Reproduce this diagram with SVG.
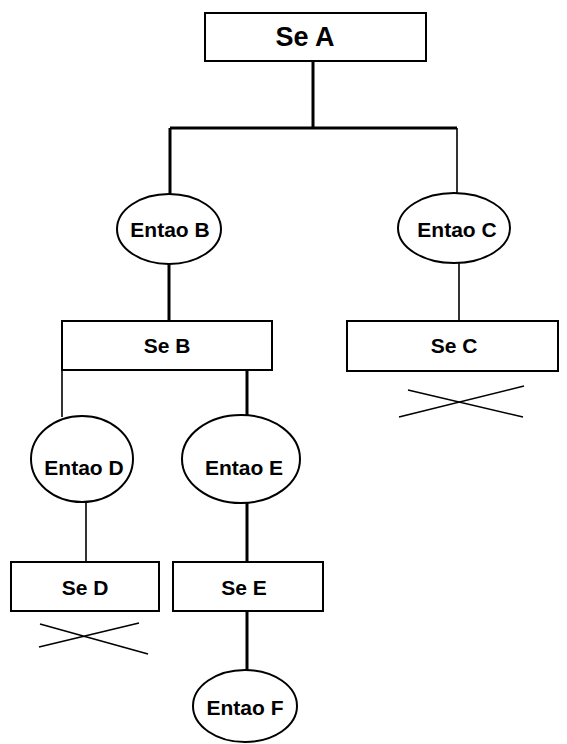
<svg xmlns="http://www.w3.org/2000/svg" width="567" height="744" viewBox="0 0 567 744">
<style>
.box{fill:#fff;stroke:#000;stroke-width:2}
.ell{fill:#fff;stroke:#000;stroke-width:2}
.t{font-family:"Liberation Sans",Arial,sans-serif;font-weight:bold;font-size:21px;text-anchor:middle;fill:#000}
.big{font-size:27px}
.thin{stroke:#000;stroke-width:1.6;fill:none}
.thick{stroke:#000;stroke-width:3;fill:none}
</style>
<rect width="567" height="744" fill="#fff"/>
<g id="connectors">
<path class="thick" d="M313 61V128M170 128H457M170 128V194"/>
<path class="thin" d="M457 128V193"/>
<path class="thick" d="M169 264V321"/>
<path class="thin" d="M459 263V321"/>
<path class="thin" d="M62 370V417"/>
<path class="thick" d="M247 370V417"/>
<path class="thin" d="M86 502V562"/>
<path class="thick" d="M247 503V562M247 611V670"/>
</g>
<g id="SeA"><rect class="box" x="205" y="13" width="221" height="48"/><text class="t big" x="305" y="46">Se A</text></g>
<g id="EntaoB"><ellipse class="ell" cx="169" cy="229" rx="52" ry="35"/><text class="t" x="170" y="237">Entao B</text></g>
<g id="EntaoC"><ellipse class="ell" cx="454" cy="228" rx="56" ry="35"/><text class="t" x="457" y="237">Entao C</text></g>
<g id="SeB"><rect class="box" x="62" y="321" width="210" height="49"/><text class="t" x="167" y="353">Se B</text></g>
<g id="SeC"><rect class="box" x="347" y="321" width="211" height="50"/><text class="t" x="454" y="353">Se C</text>
<path class="thin" d="M399 417L524 386M408 390L523 417"/></g>
<g id="EntaoD"><ellipse class="ell" cx="82" cy="459" rx="51" ry="43"/><text class="t" x="84" y="475">Entao D</text></g>
<g id="EntaoE"><ellipse class="ell" cx="241" cy="459" rx="59" ry="44"/><text class="t" x="244" y="475">Entao E</text></g>
<g id="SeD"><rect class="box" x="11" y="562" width="148" height="49"/><text class="t" x="85" y="595">Se D</text>
<path class="thin" d="M39 647L139 623M40 624L148 654"/></g>
<g id="SeE"><rect class="box" x="173" y="562" width="150" height="49"/><text class="t" x="244" y="595">Se E</text></g>
<g id="EntaoF"><ellipse class="ell" cx="245" cy="706" rx="52" ry="36"/><text class="t" x="245" y="715">Entao F</text></g>
</svg>
